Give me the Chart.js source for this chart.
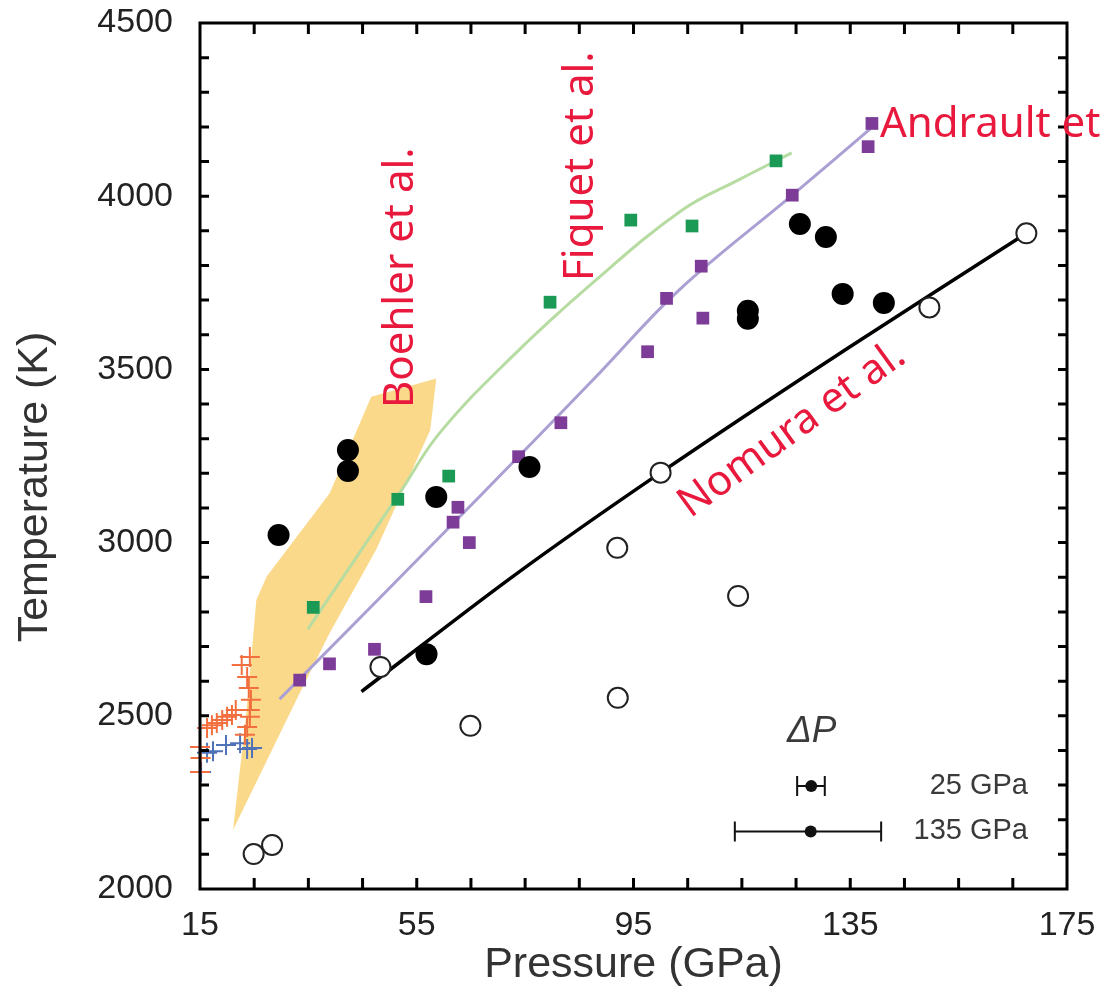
<!DOCTYPE html>
<html><head><meta charset="utf-8">
<script src="https://cdn.jsdelivr.net/npm/chart.js@4/dist/chart.umd.min.js"></script>
<style>html,body{margin:0;padding:0;background:#fff}</style>
</head><body>
<canvas id="c" width="1101" height="1006"></canvas>
<script>
// ---- tick labels ----
const xTickLabels = [15, 55, 95, 135, 175];
const yTickLabels = [2000, 2500, 3000, 3500, 4000, 4500];
const xTitle = 'Pressure (GPa)';
const yTitle = 'Temperature (K)';

// ---- Boehler et al. band (polygon outline) ----
const bandP = [21.1, 23.5, 25.4, 27.3, 38.9, 46.6, 58.6, 57.5, 47.5, 38.9, 32.8, 21.1];
const bandT = [2170, 2500, 2834, 2902, 3142, 3421, 3474, 3325, 2979, 2738, 2546, 2170];

// ---- Fiquet et al. (green) ----
const fiquetLineP = [34.9, 51.8, 59.2, 72.6, 87.4, 104.0, 114.4, 124.2];
const fiquetLineT = [2750, 3142, 3316, 3537, 3749, 3960, 4047, 4125];
const fiquetP = [35.9, 51.5, 60.9, 79.6, 94.5, 105.8, 121.3];
const fiquetT = [2813, 3125, 3192, 3694, 3931, 3914, 4102];

// ---- Andrault et al. (purple) ----
const andraultLineP = [29.7, 66.6, 88.7, 103.4, 124.3, 138.9];
const andraultLineT = [2548, 3133, 3489, 3729, 4003, 4197];
const andraultP = [33.4, 38.9, 47.2, 56.7, 61.7, 62.6, 64.7, 73.8, 81.6, 97.6, 101.1, 107.5, 107.8, 124.3, 138.3, 139.0];
const andraultT = [2603, 2650, 2692, 2844, 3059, 3102, 3000, 3248, 3346, 3551, 3705, 3798, 3648, 4003, 4143, 4210];

// ---- Nomura et al. (black line, open circles) ----
const nomuraLineP = [44.8, 72.7, 100.0, 134.6, 167.5];
const nomuraLineT = [2570, 2902, 3202, 3562, 3893];
const openP = [24.9, 28.3, 48.3, 64.9, 92.0, 92.1, 100.0, 114.3, 149.6, 167.5];
const openT = [2101, 2127, 2641, 2471, 2985, 2552, 3202, 2846, 3679, 3893];

// ---- filled circles ----
const filledP = [29.5, 42.3, 42.3, 58.6, 75.8, 56.8, 116.1, 116.1, 125.7, 130.5, 133.6, 141.2];
const filledT = [3022, 3267, 3207, 3132, 3218, 2678, 3669, 3646, 3920, 3882, 3718, 3692];

// ---- crosses ----
const orangeP = [24.2, 22.7, 23.7, 24.0, 24.4, 24.2, 24.2, 23.7, 23.3, 16.3, 17.2, 18.1, 19.1, 20.0, 20.9, 21.6, 15.0, 15.1, 15.0];
const orangeT = [2670, 2647, 2612, 2580, 2546, 2517, 2497, 2468, 2445, 2465, 2473, 2479, 2488, 2497, 2502, 2517, 2410, 2378, 2338];
const blueP = [15.2, 16.3, 17.4, 19.8, 22.4, 23.7, 24.6];
const blueT = [2338, 2393, 2398, 2416, 2421, 2404, 2407];

// ---- ΔP error-bar key ----
const errLabels = ['25 GPa', '135 GPa'];
const errCenterP = [127.8, 127.7];
const errLowP = [125.2, 113.7];
const errHighP = [130.3, 140.7];
const errT = [2297, 2166];

const pts = (xs, ys) => xs.map((x, i) => ({x: x, y: ys[i]}));

const RED = '#e8193c';
const annot = {
  id: 'annot',
  afterDraw(chart) {
    const ctx = chart.ctx, xs = chart.scales.x, ys = chart.scales.y;
    const a = chart.chartArea;
    ctx.save();
    // y axis title
    ctx.fillStyle = '#333';
    ctx.font = '43px "Liberation Sans"';
    ctx.textAlign = 'center'; ctx.textBaseline = 'middle';
    ctx.save(); ctx.translate(35, (a.top + a.bottom) / 2 + 31); ctx.rotate(-Math.PI / 2); ctx.fillText(yTitle, 0, 0); ctx.restore();

    // error bar key
    ctx.strokeStyle = '#111'; ctx.fillStyle = '#111'; ctx.lineWidth = 2;
    for (let i = 0; i < errT.length; i++) {
      const y = ys.getPixelForValue(errT[i]);
      const x1 = xs.getPixelForValue(errLowP[i]), x2 = xs.getPixelForValue(errHighP[i]);
      const xc = xs.getPixelForValue(errCenterP[i]);
      ctx.beginPath();
      ctx.moveTo(x1, y); ctx.lineTo(x2, y);
      ctx.moveTo(x1, y - 10); ctx.lineTo(x1, y + 10);
      ctx.moveTo(x2, y - 10); ctx.lineTo(x2, y + 10);
      ctx.stroke();
      ctx.beginPath(); ctx.arc(xc, y, 6, 0, Math.PI * 2); ctx.fill();
      ctx.fillStyle = '#3a3a3a';
      ctx.font = '29px "Liberation Sans"';
      ctx.textAlign = 'right'; ctx.textBaseline = 'middle';
      ctx.fillText(errLabels[i], 1028, y);
      ctx.fillStyle = '#111';
    }
    ctx.fillStyle = '#3a3a3a';
    ctx.font = 'italic 37px "Liberation Sans"';
    ctx.textAlign = 'left'; ctx.textBaseline = 'alphabetic';
    ctx.fillText('ΔP', 787, 742);

    // frame
    ctx.strokeStyle = '#000'; ctx.lineWidth = 3;
    ctx.strokeRect(a.left, a.top, a.right - a.left, a.bottom - a.top);
    // inward ticks
    ctx.beginPath();
    for (let v = xs.min + 10; v < xs.max; v += 10) {
      const x = xs.getPixelForValue(v);
      ctx.moveTo(x, a.bottom); ctx.lineTo(x, a.bottom - 11);
      ctx.moveTo(x, a.top); ctx.lineTo(x, a.top + 11);
    }
    for (let v = ys.min + 100; v < ys.max; v += 100) {
      const y = ys.getPixelForValue(v);
      ctx.moveTo(a.left, y); ctx.lineTo(a.left + 9, y);
      ctx.moveTo(a.right, y); ctx.lineTo(a.right - 9, y);
    }
    ctx.stroke();

    // red labels
    ctx.fillStyle = RED;
    ctx.font = '42px "Noto Sans"';
    ctx.textAlign = 'left'; ctx.textBaseline = 'alphabetic';
    ctx.save(); ctx.translate(413, 408); ctx.rotate(-Math.PI / 2); ctx.fillText('Boehler et al.', 0, 0); ctx.restore();
    ctx.save(); ctx.translate(593, 281); ctx.rotate(-Math.PI / 2); ctx.fillText('Fiquet et al.', 0, 0); ctx.restore();
    ctx.fillText('Andrault et', 880, 137);
    ctx.save(); ctx.translate(792, 430); ctx.rotate(-36 * Math.PI / 180);
    ctx.textAlign = 'center'; ctx.textBaseline = 'middle';
    ctx.fillText('Nomura et al.', 0, 0); ctx.restore();
    ctx.restore();
  }
};

new Chart(document.getElementById('c'), {
  type: 'scatter',
  data: {
    datasets: [
      {label: 'filled', data: pts(filledP, filledT), pointStyle: 'circle', pointRadius: 11, backgroundColor: '#000', borderColor: '#000', borderWidth: 0, order: 1},
      {label: 'open', data: pts(openP, openT), pointStyle: 'circle', pointRadius: 10, backgroundColor: '#fff', borderColor: '#222', borderWidth: 2, order: 2},
      {label: 'andrault', data: pts(andraultP, andraultT), pointStyle: 'rect', pointRadius: 9, backgroundColor: '#7d3c98', borderWidth: 0, order: 3},
      {label: 'fiquet', data: pts(fiquetP, fiquetT), pointStyle: 'rect', pointRadius: 9, backgroundColor: '#1a9a55', borderWidth: 0, order: 3},
      {label: 'orange', data: pts(orangeP, orangeT), pointStyle: 'cross', pointRadius: 10, borderColor: '#f2703f', borderWidth: 2, clip: false, order: 4},
      {label: 'blue', data: pts(blueP, blueT), pointStyle: 'cross', pointRadius: 10, borderColor: '#4f72b8', borderWidth: 2, clip: false, order: 4},
      {label: 'nomuraLine', data: pts(nomuraLineP, nomuraLineT), showLine: true, pointRadius: 0, borderColor: '#000', borderWidth: 3.5, tension: 0.3, order: 5},
      {label: 'andraultLine', data: pts(andraultLineP, andraultLineT), showLine: true, pointRadius: 0, borderColor: '#ab9fd3', borderWidth: 3, tension: 0.4, order: 6},
      {label: 'fiquetLine', data: pts(fiquetLineP, fiquetLineT), showLine: true, pointRadius: 0, borderColor: '#b7dca2', borderWidth: 3, tension: 0.4, order: 6},
      {label: 'band', data: pts(bandP, bandT), showLine: true, pointRadius: 0, borderWidth: 0, borderColor: 'rgba(0,0,0,0)', backgroundColor: '#fbd98a', fill: 'shape', tension: 0, order: 10}
    ]
  },
  options: {
    responsive: false,
    animation: false,
    layout: {padding: {top: 23, right: 34, left: 0, bottom: 0}},
    plugins: {legend: {display: false}, tooltip: {enabled: false}},
    scales: {
      x: {
        type: 'linear', min: 15, max: 175,
        afterBuildTicks: s => { s.ticks = xTickLabels.map(v => ({value: v})); },
        afterFit: s => { s.height = 117; s.paddingLeft = 0; s.paddingRight = 0; },
        grid: {display: false}, border: {display: false},
        ticks: {font: {family: 'Liberation Sans', size: 34}, color: '#222', padding: 8, maxRotation: 0, autoSkip: false, callback: v => String(v)},
        title: {display: true, text: xTitle, font: {family: 'Liberation Sans', size: 43}, color: '#333', padding: {top: 0, bottom: 15}}
      },
      y: {
        type: 'linear', min: 2000, max: 4500,
        afterBuildTicks: s => { s.ticks = yTickLabels.map(v => ({value: v})); },
        afterFit: s => { s.width = 200; s.paddingTop = 0; s.paddingBottom = 0; },
        grid: {display: false}, border: {display: false},
        ticks: {font: {family: 'Liberation Sans', size: 34}, color: '#222', padding: 19, autoSkip: false, callback: v => String(v)},
        title: {display: false}
      }
    }
  },
  plugins: [annot]
});
</script>
</body></html>
